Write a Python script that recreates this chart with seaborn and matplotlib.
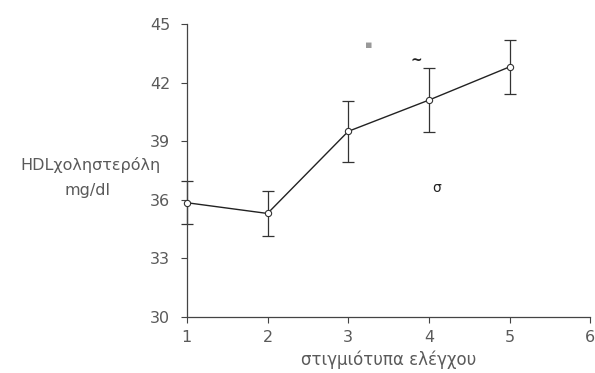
import matplotlib
matplotlib.use("Agg")
import matplotlib.pyplot as plt
import seaborn as sns
import pandas as pd

# data
timepoints = [1, 2, 3, 4, 5]
hdl_mean = [35.85, 35.3, 39.5, 41.1, 42.8]
hdl_err = [1.1, 1.15, 1.55, 1.65, 1.4]
x_ticks = [1, 2, 3, 4, 5, 6]
y_ticks = [30, 33, 36, 39, 42, 45]
x_label = "στιγμιότυπα ελέγχου"
y_label_lines = ["HDLχοληστερόλη", "mg/dl"]

sns.set_theme(style="white")
plt.rcParams['font.family'] = ['DejaVu Sans']

df = pd.DataFrame({"t": timepoints, "hdl": hdl_mean})

fig = plt.figure(figsize=(5.95, 3.73), dpi=100)
ax = fig.add_axes([0.314, 0.150, 0.678, 0.786])

txt = "#5a5a5a"
line_c = "#222222"

ax.errorbar(timepoints, hdl_mean, yerr=hdl_err, fmt="none", ecolor="#333333",
            elinewidth=0.9, capsize=4, capthick=0.9, clip_on=False, zorder=2)
sns.lineplot(data=df, x="t", y="hdl", ax=ax, color=line_c, linewidth=1.0,
             marker="o", markersize=4.5, markerfacecolor="white",
             markeredgecolor="#333333", markeredgewidth=0.8, clip_on=False, zorder=3)

ax.set_xlim(1, 6)
ax.set_ylim(30, 45)
ax.set_xticks(x_ticks)
ax.set_yticks(y_ticks)
ax.set_xticklabels([str(v) for v in x_ticks], fontsize=11.5, color=txt)
ax.set_yticklabels([str(v) for v in y_ticks], fontsize=11.5, color=txt)
ax.tick_params(axis="both", direction="out", length=4, width=0.8, colors="#444444",
               labelcolor=txt, bottom=True, left=True)
ax.tick_params(axis="y", pad=8)
ax.tick_params(axis="x", pad=5)

for s in ["top", "right"]:
    ax.spines[s].set_visible(False)
for s in ["left", "bottom"]:
    ax.spines[s].set_color("#444444")
    ax.spines[s].set_linewidth(0.9)

ax.set_xlabel(x_label, fontsize=12, color=txt, labelpad=4)
ax.set_ylabel("")
fig.text(90 / 595, 1 - 165 / 373, y_label_lines[0], ha="center", va="center",
         fontsize=11.5, color=txt)
fig.text(88 / 595, 1 - 190 / 373, y_label_lines[1], ha="center", va="center",
         fontsize=11.5, color=txt)

# small marks seen on the chart
ax.text(3.25, 43.9, "▪", fontsize=8, color="#999999", ha="center", va="center")
ax.text(3.85, 43.1, "~", fontsize=10, color="#222222", ha="center", va="center",
        fontweight="bold")
ax.text(4.1, 36.6, "σ", fontsize=10, color="#222222", ha="center", va="center")

fig.savefig("out.png", dpi=100)
